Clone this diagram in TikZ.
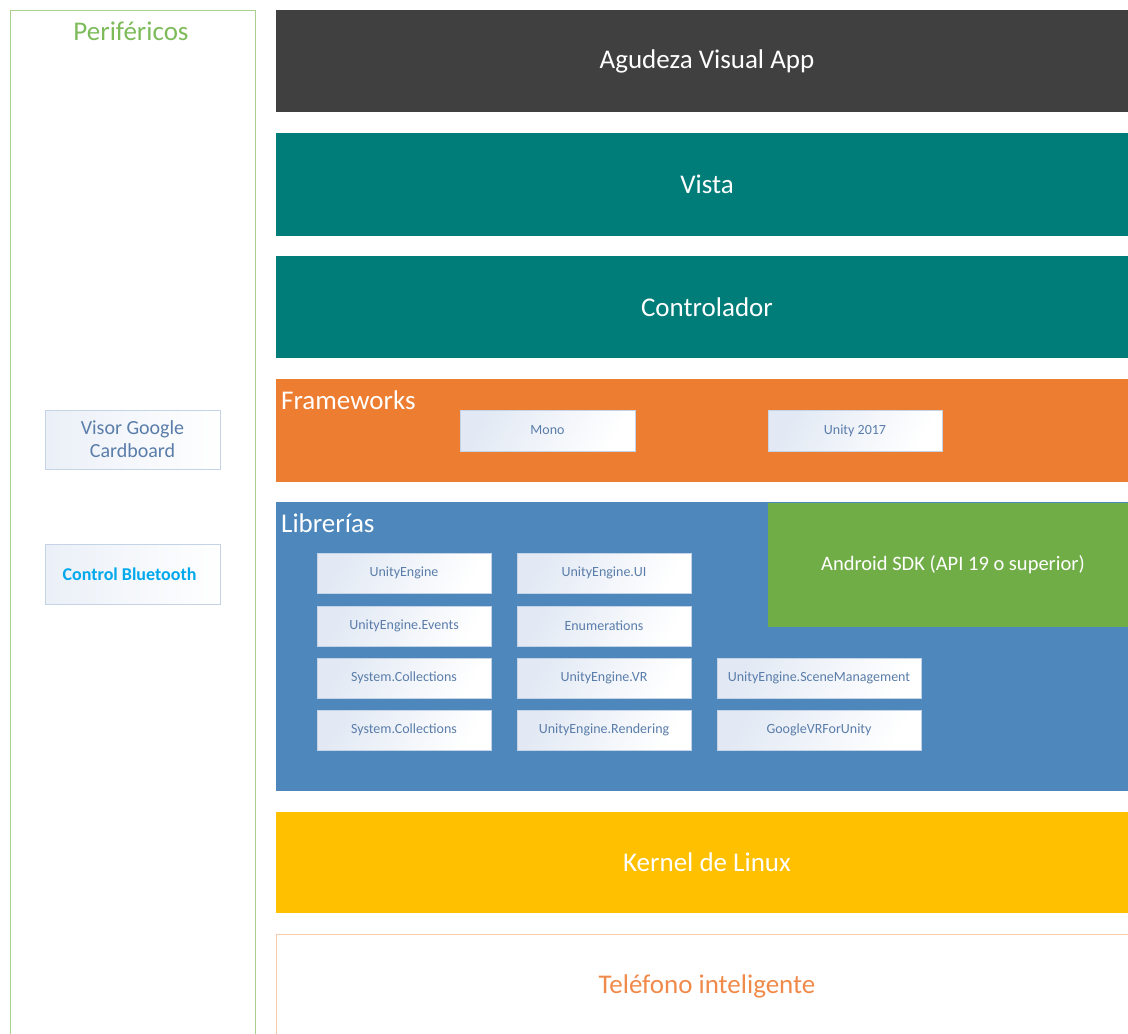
\documentclass[tikz,border=0pt]{standalone}
\usepackage{fontspec}
\setmainfont{Carlito}
\definecolor{cdark}{HTML}{404040}
\definecolor{cteal}{HTML}{007C79}
\definecolor{corange}{HTML}{ED7D31}
\definecolor{cblue}{HTML}{4E87BB}
\definecolor{cgreen}{HTML}{70AD47}
\definecolor{cyellow}{HTML}{FFC000}
\definecolor{cperi}{HTML}{A9D18E}
\definecolor{cperitext}{HTML}{7DBB5A}
\definecolor{cphone}{HTML}{F8CBAD}
\definecolor{cphonetext}{HTML}{F08A4B}
\definecolor{cboxtext}{HTML}{5A7DAA}
\definecolor{cboxline}{HTML}{C5D3E6}
\definecolor{cboxfill}{HTML}{E2E9F4}
\definecolor{cbt}{HTML}{00A8EC}
\begin{document}
\begin{tikzpicture}[x=1pt,y=-1pt,
  layertext/.style={text=white,font=\fontsize{27}{32}\selectfont},
  smallbox/.style={draw=cboxline,line width=0.8pt,left color=cboxfill,right color=white,
    shading angle=60,text=cboxtext,font=\fontsize{14}{16}\selectfont,inner sep=0pt},
  sidebox/.style={draw=cboxline,line width=1pt,left color=cboxfill!70,right color=white,inner sep=0pt}
]
\useasboundingbox (0,0) rectangle (1128,1034);
% Periféricos panel
\draw[cperi,line width=1pt] (10,1040) -- (10,10) -- (255,10) -- (255,1040);
\node[text=cperitext,font=\fontsize{27}{32}\selectfont] (peri) at (131,31) {Periféricos};
% layers
\fill[cdark] (276,10) rectangle (1128,112);
\node[layertext] (app) at (707,61) {Agudeza Visual App};
\fill[cteal] (276,133) rectangle (1128,236);
\node[layertext] (vista) at (707,184) {Vista};
\fill[cteal] (276,256) rectangle (1128,358);
\node[layertext] (ctrl) at (707,307) {Controlador};
\fill[corange] (276,379) rectangle (1128,482);
\node[layertext,anchor=west,inner sep=0pt] (fw) at (281,400) {Frameworks};
\fill[cblue] (276,502) rectangle (1128,791);
\node[layertext,anchor=west,inner sep=0pt] (lib) at (281,523) {Librerías};
\fill[cgreen] (768,503) rectangle (1128,627);
\node[text=white,font=\fontsize{20.5}{24}\selectfont] (sdk) at (953,565) {Android SDK (API 19 o superior)};
\fill[cyellow] (276,812) rectangle (1128,913);
\node[layertext] (kernel) at (707,862) {Kernel de Linux};
\draw[cphone,line width=1pt] (276,1040) -- (276,934) -- (1128,934);
\node[text=cphonetext,font=\fontsize{27}{32}\selectfont] (phone) at (707,986) {Teléfono inteligente};
% framework boxes
\node[smallbox,minimum width=175pt,minimum height=41pt] (mono) at (547.5,430.5) {Mono};
\node[smallbox,minimum width=174pt,minimum height=41pt] (unity) at (855,430.5) {Unity 2017};
% library boxes
\foreach \name/\txt/\cx/\cy/\w in {
  l11/UnityEngine/404/573/174,
  l12/UnityEngine.UI/604/573/174,
  l21/UnityEngine.Events/404/626/174,
  l22/Enumerations/604/626/174,
  l31/System.Collections/404/678/174,
  l32/UnityEngine.VR/604/678/174,
  l33/UnityEngine.SceneManagement/819/678/204,
  l41/System.Collections/404/730/174,
  l42/UnityEngine.Rendering/604/730/174,
  l43/GoogleVRForUnity/819/730/204}
  \node[smallbox,minimum width=\w pt,minimum height=40pt] (\name) at (\cx,\cy) {\txt};
% side boxes
\node[sidebox,minimum width=175pt,minimum height=59pt,text=cboxtext,align=center,
  font=\fontsize{20}{23}\selectfont] (visor) at (132.5,439.5) {Visor Google\\Cardboard};
\node[sidebox,minimum width=175pt,minimum height=60pt] (bt) at (132.5,574) {};
\node[text=cbt,font=\bfseries\fontsize{18}{21}\selectfont,inner sep=0pt] (bttext) at (129.5,574) {Control Bluetooth};
\end{tikzpicture}
\end{document}
